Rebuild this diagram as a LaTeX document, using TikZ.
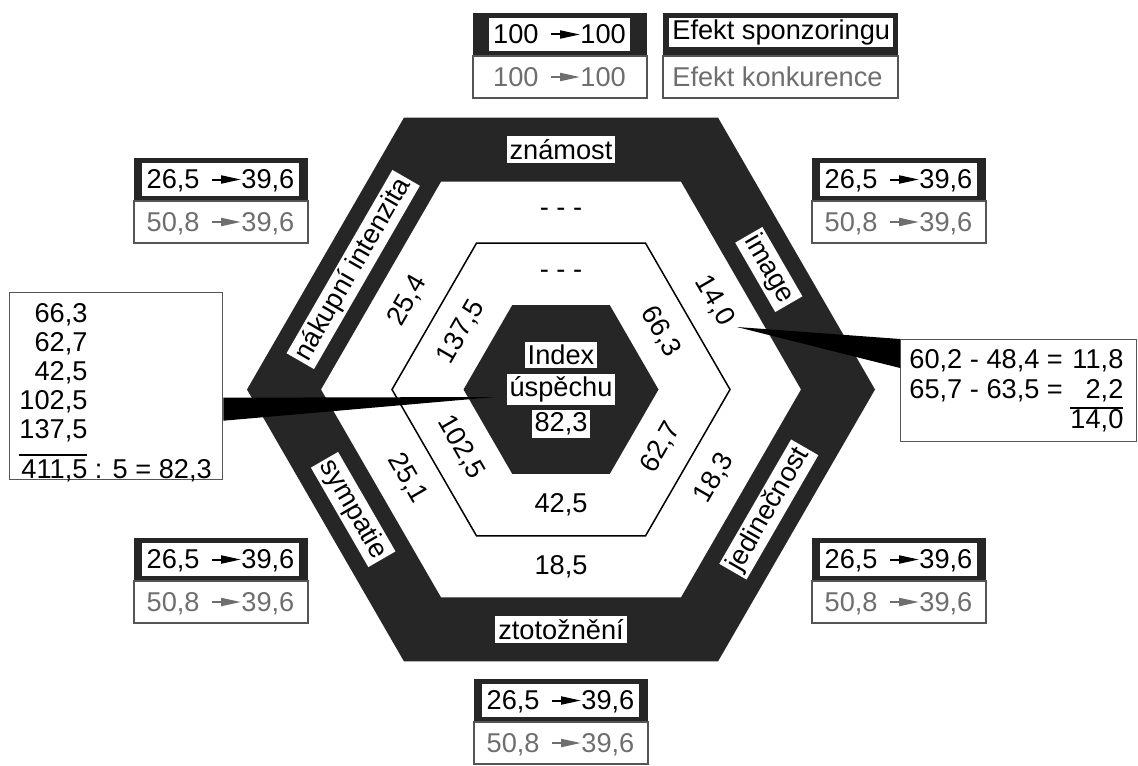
\documentclass[tikz,border=0pt]{standalone}
\usepackage{fontspec}
\setmainfont{Liberation Sans}
\usetikzlibrary{arrows.meta,fit}
\pgfdeclarelayer{bg}
\pgfsetlayers{bg,main}
\definecolor{band}{RGB}{38,38,38}
\definecolor{soft}{RGB}{110,110,110}
\definecolor{edge}{RGB}{85,85,85}
\setlength{\arrayrulewidth}{0.7pt}
\newcommand\valbox[7]{%
  \begin{scope}[shift={(#2,#3)}]
    \begin{pgfonlayer}{bg}\fill[band] (0,0) rectangle (174,43);\end{pgfonlayer}
    \draw[frame] (0,43) rectangle (174,85);
    \node[num, anchor=east] (#1a) at (66,21.5) {#4};
    \node[num, anchor=west] (#1b) at (107,21.5) {#5};
    \node[num, soft, anchor=east] (#1c) at (66,64) {#6};
    \node[num, soft, anchor=west] (#1d) at (107,64) {#7};
  \end{scope}
  \draw[flow] ([xshift=6pt]#1a.east) -- (#1b.west);
  \draw[flow, soft] ([xshift=6pt]#1c.east) -- (#1d.west);
  \begin{pgfonlayer}{bg}\node[fit=(#1a)(#1b), fill=white, inner xsep=2pt, inner ysep=3pt] {};\end{pgfonlayer}%
}
\begin{document}
\begin{tikzpicture}[x=0.5pt, y=-0.5pt,
  every node/.style={font=\fontsize{13.6}{16}\selectfont},
  num/.style={inner sep=0pt, text height=9.7pt, text depth=0.5pt},
  lab/.style={fill=white, inner sep=1.5pt},
  val/.style={inner sep=1pt},
  flow/.style={line width=1pt, -{Triangle[length=10pt,width=4pt]}},
  frame/.style={draw=edge, line width=0.7pt},
  wedge/.style={fill=black},
  hexline/.style={draw=black, line width=0.75pt}]
\begin{pgfonlayer}{bg}\fill[white] (0,0) rectangle (1138,765);\end{pgfonlayer}
\useasboundingbox (0,0) rectangle (1138,765);

% hexagons
\begin{scope}[shift={(561,389.5)}]
  \fill[band, even odd rule] (0:314) -- (60:314) -- (120:314) -- (180:314) -- (240:314) -- (300:314) -- cycle
    (0:240) -- (60:240) -- (120:240) -- (180:240) -- (240:240) -- (300:240) -- cycle;
  \draw[hexline] (0:169) -- (60:169) -- (120:169) -- (180:169) -- (240:169) -- (300:169) -- cycle;
  \fill[band] (0:97.5) -- (60:97.5) -- (120:97.5) -- (180:97.5) -- (240:97.5) -- (300:97.5) -- cycle;
\end{scope}

% callout boxes
\node[frame, fill=white, anchor=north west, minimum width=106.5pt, minimum height=93.5pt, inner sep=0] (lcall) at (9,292) {};
\node[anchor=north west, inner sep=0] (lsum) at (19,302) {\fontsize{13.6}{14.5}\selectfont
  \begin{tabular}{@{}r@{}l@{}}
  66,3\\ 62,7\\ 42,5\\ 102,5\\ 137,5\\[3.5pt] \cline{1-1}
  \rule{0pt}{12.2pt}411,5 & \ : 5 = 82,3
  \end{tabular}};
\node[frame, fill=white, anchor=north west, minimum width=118pt, minimum height=51pt, inner sep=0] (rcall) at (900,339) {};
\node[anchor=north west, inner sep=0] (rsum) at (909,347) {\fontsize{13.6}{15}\selectfont
  \begin{tabular}{@{}l@{}r@{}}
  60,2 - 48,4 = \mbox{} & 11,8\\
  65,7 - 63,5 = \mbox{} & 2,2\\ \cline{2-2}
  & 14,0
  \end{tabular}};

% wedges
\coordinate (ltip) at (495,397);
\coordinate (rtip) at (737,327);
\fill[wedge] (ltip) -- ([yshift=-5.75pt]lcall.east) -- ([yshift=-17.25pt]lcall.east) -- cycle;
\fill[wedge] (rtip) -- (rcall.north west) -- ([yshift=-14.5pt]rcall.north west) -- cycle;

% band labels
\node[lab] (zn) at (561,149.6) {známost};
\node[lab, rotate=-60] (im) at (768.8,269.5) {image};
\node[lab, rotate=60] (je) at (768.8,509.5) {jedinečnost};
\node[lab] (zt) at (561,629.4) {ztotožnění};
\node[lab, rotate=-60] (sy) at (353.2,509.5) {sympatie};
\node[lab, rotate=60] (na) at (353.2,269.5) {nákupní intenzita};

% outer ring values
\node[val] (o1) at (561,212.4) {- - -};
\node[val, rotate=-60] (o2) at (714.4,300.9) {14,0};
\node[val, rotate=60] (o3) at (714.4,478.1) {18,3};
\node[val] (o4) at (561,566.6) {18,5};
\node[val, rotate=-60] (o5) at (407.6,478.1) {25,1};
\node[val, rotate=60] (o6) at (407.6,300.9) {25,4};

% inner ring values
\node[val] (i1) at (561,274.1) {- - -};
\node[val, rotate=-60] (i2) at (660.9,331.8) {66,3};
\node[val, rotate=60] (i3) at (660.9,447.2) {62,7};
\node[val] (i4) at (561,504.9) {42,5};
\node[val, rotate=-60] (i5) at (461.1,447.2) {102,5};
\node[val, rotate=60] (i6) at (461.1,331.8) {137,5};

% centre
\node[lab] (c1) at (561,355) {Index};
\node[lab] (c2) at (561,389.5) {úspěchu};
\node[lab] (c3) at (561,424) {82,3};

% legend
\valbox{lg}{473}{13}{100}{100}{100}{100}
\begin{pgfonlayer}{bg}\fill[band] (663,13) rectangle (898,56);\end{pgfonlayer}
\draw[frame] (663,56) rectangle (898,98);
\node[fill=white, inner xsep=1.5pt, inner ysep=0.8pt, anchor=west] (spons) at (669,32.5) {Efekt sponzoringu};
\node[soft, inner sep=0, anchor=west] (konk) at (672,77) {Efekt konkurence};

% value boxes
\valbox{ul}{134}{158}{26,5}{39,6}{50,8}{39,6}
\valbox{ur}{812}{158}{26,5}{39,6}{50,8}{39,6}
\valbox{ll}{134}{538}{26,5}{39,6}{50,8}{39,6}
\valbox{lr}{812}{538}{26,5}{39,6}{50,8}{39,6}
\valbox{bt}{474}{679}{26,5}{39,6}{50,8}{39,6}
\end{tikzpicture}
\end{document}
